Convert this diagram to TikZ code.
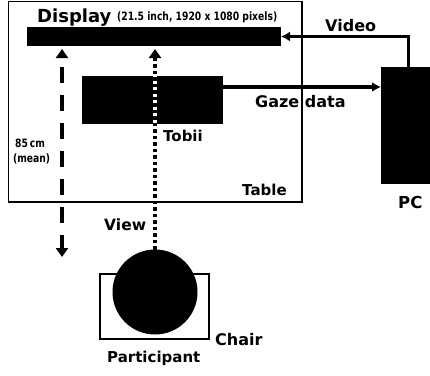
\documentclass[tikz,border=0pt]{standalone}
\usepackage{fontspec}
\setmainfont{DejaVu Sans}
\newfontfamily\narrowfont[FakeStretch=0.8]{DejaVu Sans}
\usetikzlibrary{arrows.meta}
\tikzset{
  blk/.style={fill=black, draw=none, inner sep=0pt, outer sep=0pt},
  lbl/.style={anchor=base west, inner sep=0pt, font=\bfseries},
  small lbl/.style={anchor=base west, inner sep=0pt, font=\narrowfont\bfseries\fontsize{11.5}{12}\selectfont},
  thick arrow/.style={line width=3.5pt, -{Latex[length=9pt,width=10pt]}},
  tri/.tip={Triangle[length=9pt,width=12pt]},
}
\begin{document}
\begin{tikzpicture}[x=1pt,y=-1pt]
\useasboundingbox (0,0) rectangle (430,375);
% table
\node[draw, line width=1.5pt, minimum width=293.5pt, minimum height=200.5pt, inner sep=0pt] (table) at (155.25,101.75) {};
% display, tobii, pc
\node[blk, minimum width=254pt, minimum height=19pt] (disp) at (154,36.5) {};
\node[blk, minimum width=141pt, minimum height=48pt] (tobii) at (152.5,100) {};
\node[blk, minimum width=55pt, minimum height=117pt] (pc) at (408.5,125.5) {};
% chair and participant
\node[draw, line width=1.5pt, minimum width=109pt, minimum height=65pt, inner sep=0pt] (chair) at (154.5,306.5) {};
\node[circle, blk, minimum size=85pt] (head) at (155,292) {};
% connectors
\draw[thick arrow] (pc.north) |- (disp.east);
\draw[thick arrow] ([yshift=-11pt]tobii.north east) -- ([yshift=-11pt]tobii.north east -| pc.west);
\coordinate (dashend) at (62,257);
\draw[line width=4.5pt, dash pattern=on 16pt off 12pt, dash phase=2pt, tri-tri] (dashend) -- ([yshift=-3pt]dashend |- disp.south);
\draw[line width=4.5pt, white] (head.north) -- ([yshift=-12pt]head.north |- disp.south);
\draw[line width=4.5pt, dash pattern=on 3.5pt off 3pt, -tri] (head.north) -- ([yshift=-3pt]head.north |- disp.south);
% labels
\node[lbl, font=\bfseries\fontsize{18}{18}\selectfont] (tdisp) at (37,22) {Display};
\node[small lbl] (tspec) at (117,20.5) {(21.5 inch, 1920 x 1080 pixels)};
\node[lbl, font=\bfseries\fontsize{16}{16}\selectfont] (tvideo) at (325,31) {Video};
\node[lbl, font=\bfseries\fontsize{16}{16}\selectfont] (tgaze) at (255,107) {Gaze data};
\node[lbl, font=\bfseries\fontsize{15}{15}\selectfont] (ttobii) at (163,141) {Tobii};
\node[lbl, font=\bfseries\fontsize{15}{15}\selectfont] (ttable) at (242,195) {Table};
\node[lbl, font=\bfseries\fontsize{15.5}{15}\selectfont] (tview) at (104,230) {View};
\node[lbl, font=\bfseries\fontsize{16.5}{16}\selectfont] (tpc) at (398,208) {PC};
\node[lbl, font=\bfseries\fontsize{16}{16}\selectfont] (tchair) at (215,345) {Chair};
\node[lbl, font=\bfseries\fontsize{15}{15}\selectfont] (tpart) at (107,362) {Participant};
\node[small lbl] (t85) at (15,147) {85\,cm};
\node[small lbl] (tmean) at (13,162.5) {(mean)};
\end{tikzpicture}
\end{document}
